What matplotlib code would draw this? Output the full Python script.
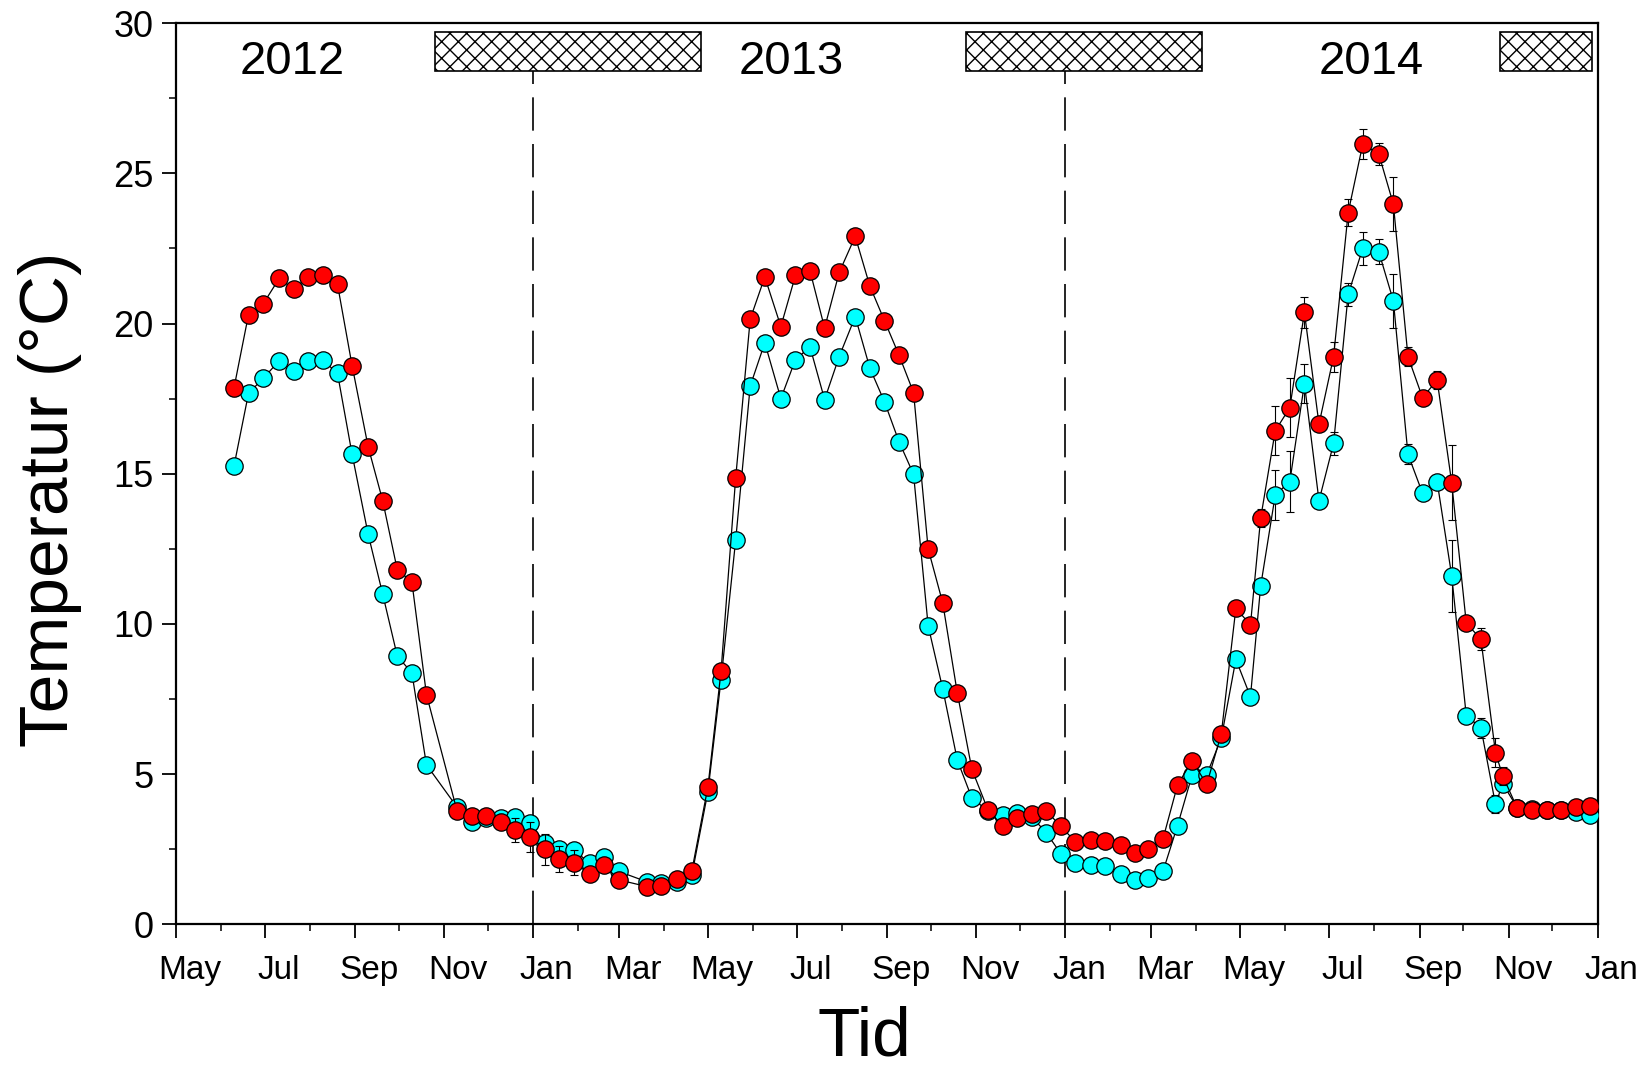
import matplotlib
matplotlib.use('Agg')
import numpy as np
import pandas as pd
import matplotlib.pyplot as plt
import matplotlib.dates as mdates
from matplotlib.patches import Rectangle
from matplotlib.transforms import ScaledTranslation

plt.rcParams['font.family'] = ['Liberation Sans', 'DejaVu Sans']
plt.rcParams['hatch.linewidth'] = 1.0

# sampling dates (about every 10 days)
dates = ['2012-06-10', '2012-06-20', '2012-06-30', '2012-07-11', '2012-07-21',
         '2012-07-31', '2012-08-10', '2012-08-20', '2012-08-30', '2012-09-10',
         '2012-09-20', '2012-09-30', '2012-10-10', '2012-10-20', '2012-11-10',
         '2012-11-20', '2012-11-30', '2012-12-10', '2012-12-20', '2012-12-30',
         '2013-01-09', '2013-01-19', '2013-01-29', '2013-02-09', '2013-02-19',
         '2013-03-01', '2013-03-20', '2013-03-30', '2013-04-10', '2013-04-20',
         '2013-05-01', '2013-05-10', '2013-05-20', '2013-05-30', '2013-06-09',
         '2013-06-20', '2013-06-30', '2013-07-10', '2013-07-20', '2013-07-30',
         '2013-08-10', '2013-08-20', '2013-08-30', '2013-09-09', '2013-09-19',
         '2013-09-29', '2013-10-09', '2013-10-19', '2013-10-29', '2013-11-09',
         '2013-11-19', '2013-11-29', '2013-12-09', '2013-12-19', '2013-12-29',
         '2014-01-08', '2014-01-19', '2014-01-28', '2014-02-08', '2014-02-18',
         '2014-02-27', '2014-03-09', '2014-03-19', '2014-03-29', '2014-04-08',
         '2014-04-18', '2014-04-28', '2014-05-08', '2014-05-15', '2014-05-25',
         '2014-06-04', '2014-06-14', '2014-06-24', '2014-07-04', '2014-07-14',
         '2014-07-24', '2014-08-04', '2014-08-14', '2014-08-24', '2014-09-03',
         '2014-09-13', '2014-09-23', '2014-10-03', '2014-10-13', '2014-10-23',
         '2014-10-28', '2014-11-07', '2014-11-17', '2014-11-27', '2014-12-07',
         '2014-12-17', '2014-12-27']

temp_red = [17.85, 20.3, 20.65, 21.5, 21.15, 21.55, 21.6, 21.3, 18.6, 15.9,
            14.1, 11.8, 11.4, 7.65, 3.77, 3.6, 3.62, 3.42, 3.14, 2.92,
            2.5, 2.17, 2.05, 1.68, 1.96, 1.48, 1.26, 1.29, 1.5, 1.79,
            4.58, 8.43, 14.85, 20.15, 21.55, 19.9, 21.6, 21.75, 19.85, 21.7,
            22.9, 21.25, 20.1, 18.95, 17.7, 12.5, 10.7, 7.7, 5.16, 3.81,
            3.28, 3.53, 3.66, 3.78, 3.26, 2.75, 2.81, 2.79, 2.64, 2.39,
            2.51, 2.84, 4.64, 5.45, 4.66, 6.34, 10.52, 9.97, 13.52, 16.43,
            17.2, 20.37, 16.65, 18.9, 23.69, 25.97, 25.64, 23.97, 18.9, 17.53,
            18.12, 14.7, 10.02, 9.5, 5.72, 4.94, 3.86, 3.81, 3.81, 3.81,
            3.89, 3.94]

temp_cyan = [15.25, 17.68, 18.17, 18.76, 18.41, 18.76, 18.78, 18.34, 15.65, 12.99,
             10.99, 8.93, 8.37, 5.31, 3.9, 3.42, 3.55, 3.55, 3.59, 3.37,
             2.72, 2.5, 2.48, 2.03, 2.23, 1.76, 1.42, 1.37, 1.42, 1.65,
             4.42, 8.15, 12.78, 17.92, 19.36, 17.5, 18.8, 19.22, 17.47, 18.9,
             20.23, 18.52, 17.4, 16.07, 14.98, 9.94, 7.84, 5.47, 4.2, 3.78,
             3.64, 3.7, 3.58, 3.05, 2.35, 2.03, 1.99, 1.95, 1.67, 1.48,
             1.53, 1.76, 3.29, 4.97, 4.98, 6.2, 8.82, 7.58, 11.26, 14.29,
             14.74, 18.0, 14.1, 16.01, 20.97, 22.5, 22.39, 20.75, 15.65, 14.35,
             14.74, 11.6, 6.94, 6.55, 4.0, 4.68, 3.88, 3.85, 3.82, 3.82,
             3.75, 3.64]

err_red = [0.26, 0.15, 0.15, 0.15, 0.15, 0.15, 0.25, 0.2, 0.2, 0.25,
           0.15, 0.15, 0.15, 0.15, 0.15, 0.15, 0.15, 0.2, 0.39, 0.5,
           0.52, 0.43, 0.41, 0.2, 0.15, 0.15, 0.15, 0.15, 0.15, 0.15,
           0.15, 0.15, 0.15, 0.15, 0.15, 0.15, 0.15, 0.15, 0.15, 0.15,
           0.15, 0.15, 0.15, 0.15, 0.15, 0.15, 0.15, 0.15, 0.15, 0.15,
           0.15, 0.15, 0.15, 0.15, 0.15, 0.15, 0.15, 0.15, 0.15, 0.15,
           0.15, 0.15, 0.15, 0.15, 0.15, 0.15, 0.15, 0.15, 0.3, 0.82,
           0.97, 0.52, 0.2, 0.5, 0.44, 0.51, 0.38, 0.9, 0.31, 0.2,
           0.3, 1.25, 0.2, 0.37, 0.48, 0.3, 0.1, 0.1, 0.1, 0.1,
           0.1, 0.1]

err_cyan = [0.15, 0.15, 0.15, 0.15, 0.15, 0.15, 0.15, 0.15, 0.15, 0.15,
            0.15, 0.15, 0.15, 0.15, 0.15, 0.15, 0.15, 0.15, 0.15, 0.15,
            0.15, 0.15, 0.15, 0.15, 0.15, 0.15, 0.15, 0.15, 0.15, 0.15,
            0.15, 0.15, 0.15, 0.15, 0.15, 0.15, 0.15, 0.15, 0.15, 0.15,
            0.15, 0.15, 0.15, 0.15, 0.15, 0.15, 0.15, 0.15, 0.15, 0.15,
            0.15, 0.15, 0.15, 0.15, 0.15, 0.15, 0.15, 0.15, 0.15, 0.15,
            0.15, 0.15, 0.15, 0.15, 0.15, 0.15, 0.15, 0.15, 0.15, 0.82,
            1.02, 0.64, 0.2, 0.39, 0.39, 0.55, 0.41, 0.89, 0.33, 0.15,
            0.15, 1.19, 0.15, 0.33, 0.3, 0.15, 0.1, 0.1, 0.1, 0.1,
            0.1, 0.1]

# hatched periods at the top of the plot
ice_start = ['2012-10-26', '2013-10-25', '2014-10-26']
ice_end = ['2013-04-26', '2014-04-05', '2014-12-28']

year_labels = ['2012', '2013', '2014']
year_dates = ['2012-07-20', '2013-06-27', '2014-07-30']

year_lines = ['2013-01-01', '2014-01-01']

x = pd.to_datetime(dates)

fig = plt.figure(figsize=(16.49, 10.69), dpi=100)
ax = fig.add_axes([0.1065, 0.1353, 0.8623, 0.8431])

# cyan first, red on top
ax.errorbar(x, temp_cyan, yerr=err_cyan, fmt='none', ecolor='black',
            elinewidth=0.8, capsize=3, capthick=0.8, zorder=2)
ax.plot(x, temp_cyan, '-o', color='black', lw=0.9, markersize=12.5,
        markerfacecolor='#00ffff', markeredgecolor='black', markeredgewidth=0.9, zorder=3)
ax.errorbar(x, temp_red, yerr=err_red, fmt='none', ecolor='black',
            elinewidth=0.8, capsize=3, capthick=0.8, zorder=4)
ax.plot(x, temp_red, '-o', color='black', lw=0.9, markersize=12.5,
        markerfacecolor='#ff0000', markeredgecolor='black', markeredgewidth=0.9, zorder=5)

box_lo, box_hi = 28.4, 29.72
for s, e in zip(ice_start, ice_end):
    s0 = mdates.date2num(pd.Timestamp(s))
    e0 = mdates.date2num(pd.Timestamp(e))
    ax.add_patch(Rectangle((s0, box_lo), e0 - s0, box_hi - box_lo,
                           facecolor='white', edgecolor='black', hatch='xx',
                           lw=1.2, zorder=6))

for d in year_lines:
    ax.plot([pd.Timestamp(d)] * 2, [0, box_lo], color='black', lw=1.2,
            dashes=(20, 8), zorder=1)

for lab, d in zip(year_labels, year_dates):
    ax.text(pd.Timestamp(d), 28.7, lab, fontsize=34, ha='center', va='center')

ax.set_xlim(pd.Timestamp('2012-05-01'), pd.Timestamp('2015-01-01'))
ax.set_ylim(0, 30)

ax.xaxis.set_major_locator(mdates.MonthLocator(bymonth=[1, 3, 5, 7, 9, 11]))
ax.xaxis.set_minor_locator(mdates.MonthLocator())
ax.xaxis.set_major_formatter(mdates.DateFormatter('%b'))
ax.set_yticks(np.arange(0, 31, 5))
ax.set_yticks(np.arange(0, 30.1, 2.5), minor=True)

ax.tick_params(which='major', direction='out', length=10, width=1.3)
ax.tick_params(which='minor', direction='out', length=5, width=1.1)
ax.tick_params(axis='x', which='major', pad=12, labelsize=24)
ax.tick_params(axis='y', which='major', pad=6, labelsize=26)

offset = ScaledTranslation(10 / 72, 0, fig.dpi_scale_trans)
for lab in ax.get_xticklabels():
    lab.set_transform(lab.get_transform() + offset)

for sp in ax.spines.values():
    sp.set_linewidth(1.6)

ax.set_ylabel('Temperatur (°C)', fontsize=50, va='center')
ax.yaxis.set_label_coords(-0.0883, 0.471)
ax.set_xlabel('Tid', fontsize=50, va='center')
ax.xaxis.set_label_coords(0.4845, -0.125)

fig.savefig('out.png', dpi=100)
